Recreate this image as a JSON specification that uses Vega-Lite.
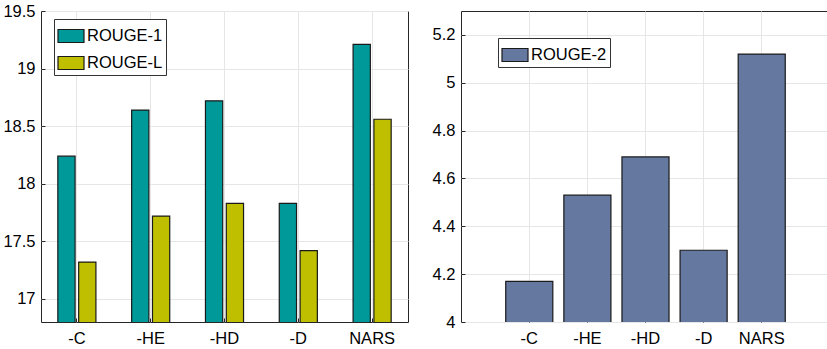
{
  "$schema": "https://vega.github.io/schema/vega-lite/v6.json",
  "padding": {"left": 2, "top": 2, "right": 0, "bottom": 0},
  "background": "white",
  "spacing": 22,
  "datasets": {
    "r1l": [
      {"model": "-C", "metric": "ROUGE-1", "score": 18.24},
      {"model": "-C", "metric": "ROUGE-L", "score": 17.32},
      {"model": "-HE", "metric": "ROUGE-1", "score": 18.64},
      {"model": "-HE", "metric": "ROUGE-L", "score": 17.72},
      {"model": "-HD", "metric": "ROUGE-1", "score": 18.72},
      {"model": "-HD", "metric": "ROUGE-L", "score": 17.83},
      {"model": "-D", "metric": "ROUGE-1", "score": 17.83},
      {"model": "-D", "metric": "ROUGE-L", "score": 17.42},
      {"model": "NARS", "metric": "ROUGE-1", "score": 19.21},
      {"model": "NARS", "metric": "ROUGE-L", "score": 18.56}
    ],
    "r2": [
      {"model": "-C", "metric": "ROUGE-2", "score": 4.17},
      {"model": "-HE", "metric": "ROUGE-2", "score": 4.53},
      {"model": "-HD", "metric": "ROUGE-2", "score": 4.69},
      {"model": "-D", "metric": "ROUGE-2", "score": 4.30},
      {"model": "NARS", "metric": "ROUGE-2", "score": 5.12}
    ]
  },
  "config": {
    "font": "Liberation Sans",
    "view": {"stroke": "#262626", "strokeWidth": 1},
    "axis": {
      "domain": false,
      "labelFont": "Liberation Sans",
      "labelFontSize": 16.5,
      "labelColor": "#000000",
      "tickColor": "#262626",
      "tickSize": -4,
      "labelPadding": 10,
      "gridColor": "#e6e6e6",
      "gridWidth": 1,
      "title": null,
      "labelAngle": 0
    },
    "legend": {
      "labelFont": "Liberation Sans",
      "labelFontSize": 16.5,
      "labelColor": "#000000",
      "strokeColor": "#333333",
      "fillColor": "white",
      "padding": 3,
      "rowPadding": 4,
      "labelOffset": 2,
      "symbolType": "M-1,-0.5H1V0.5H-1Z",
      "symbolSize": 676,
      "symbolStrokeColor": "#1a1a1a",
      "symbolStrokeWidth": 1.2,
      "symbolOpacity": 1,
      "title": null
    }
  },
  "hconcat": [
    {
      "width": 367,
      "height": 311,
      "data": {"name": "r1l"},
      "mark": {"type": "bar", "stroke": "#1a1a1a", "strokeWidth": 1.2, "clip": true},
      "encoding": {
        "x": {
          "field": "model",
          "type": "nominal",
          "sort": ["-C", "-HE", "-HD", "-D", "NARS"],
          "scale": {"paddingInner": 0.484, "paddingOuter": 0.228},
          "axis": {"grid": true, "bandPosition": 0.5, "labelPadding": 12}
        },
        "xOffset": {
          "field": "metric",
          "type": "nominal",
          "scale": {"paddingInner": 0.172, "paddingOuter": 0}
        },
        "y": {
          "field": "score",
          "type": "quantitative",
          "scale": {"domain": [16.8, 19.5], "zero": false, "nice": false},
          "axis": {"values": [17, 17.5, 18, 18.5, 19, 19.5], "grid": true, "format": "~g"}
        },
        "color": {
          "field": "metric",
          "type": "nominal",
          "scale": {"domain": ["ROUGE-1", "ROUGE-L"], "range": ["#009999", "#bfbf00"]},
          "legend": {"orient": "none", "legendX": 13, "legendY": 8}
        }
      }
    },
    {
      "width": 369,
      "height": 311,
      "data": {"name": "r2"},
      "mark": {"type": "bar", "stroke": "#1a1a1a", "strokeWidth": 1.2, "clip": true},
      "encoding": {
        "x": {
          "field": "model",
          "type": "nominal",
          "sort": ["-C", "-HE", "-HD", "-D", "NARS"],
          "scale": {"paddingInner": 0.19, "paddingOuter": 0.77},
          "axis": {"grid": true, "bandPosition": 0.5, "labelPadding": 12}
        },
        "y": {
          "field": "score",
          "type": "quantitative",
          "scale": {"domain": [4, 5.3], "zero": false, "nice": false},
          "axis": {"values": [4, 4.2, 4.4, 4.6, 4.8, 5, 5.2], "grid": true, "format": "~g"}
        },
        "color": {
          "field": "metric",
          "type": "nominal",
          "scale": {"domain": ["ROUGE-2"], "range": ["#6478a0"]},
          "legend": {"orient": "none", "legendX": 37, "legendY": 27}
        }
      }
    }
  ],
  "resolve": {"scale": {"color": "independent", "y": "independent", "x": "independent"}, "legend": {"color": "independent"}}
}
